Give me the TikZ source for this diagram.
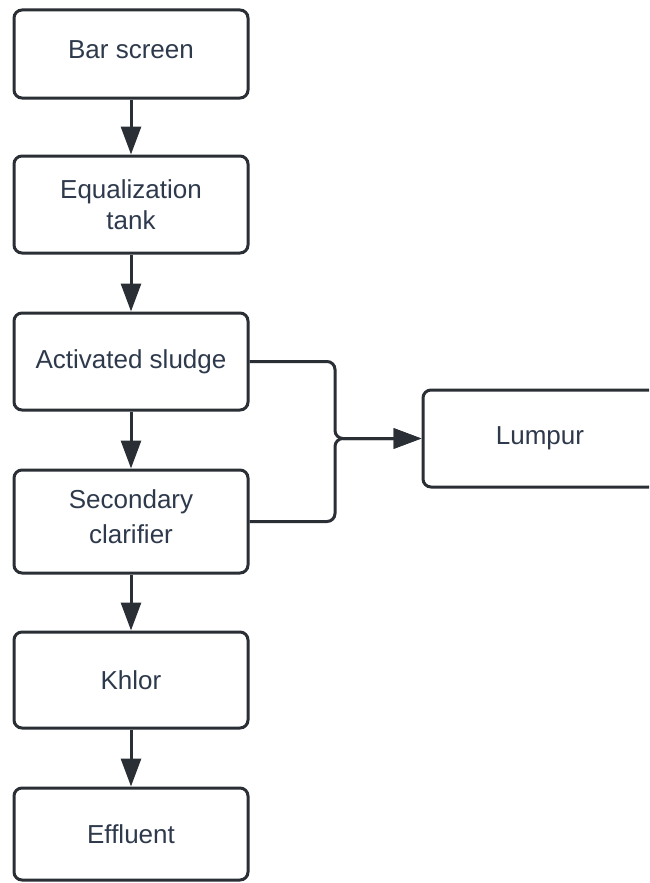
\documentclass[tikz,border=0pt]{standalone}
\usepackage{fontspec}
\setmainfont{Liberation Sans}
\usetikzlibrary{arrows.meta}
\definecolor{edge}{HTML}{2A2E35}
\definecolor{txt}{HTML}{2E3A4C}
\tikzset{
  procbox/.style={draw=edge, line width=3pt, rounded corners=8pt, fill=white,
    minimum width=234pt, text=txt, align=center, inner sep=0pt,
    font=\fontsize{26}{31}\selectfont},
  lbl/.style={text=txt, align=center, inner sep=0pt, font=\fontsize{26}{31}\selectfont},
  flow/.style={draw=edge, line width=3pt, -{Triangle[length=28pt,width=20pt]}},
  merge/.style={draw=edge, line width=3pt, rounded corners=8pt, -{Triangle[length=28pt,width=20pt]}}
}
\begin{document}
\begin{tikzpicture}[x=1pt,y=-1pt]
\clip (0,0) rectangle (649,883);
\fill[white] (0,0) rectangle (649,883);
\node[procbox, minimum height=88pt]  (bar) at (131,54)    {};
\node[lbl] (barT) at (131,50) {Bar screen};
\node[procbox, minimum height=97pt]  (eq)  at (131,204.5) {Equalization\\tank};
\node[procbox, minimum height=97pt]  (as)  at (131,361.5) {Activated sludge};
\node[procbox, minimum height=103pt] (sc) at (131,521.5) {};
\node[lbl, font=\fontsize{26}{35}\selectfont] (scT) at (131,517) {Secondary\\clarifier};
\node[procbox, minimum height=96pt]  (kh)  at (131,680)   {Khlor};
\node[procbox, minimum height=92pt]  (ef)  at (131,834)   {Effluent};
\node[procbox, minimum height=97pt]  (lu)  at (540,438.5) {Lumpur};
\coordinate (j) at (335,438.5);
\draw[flow] (bar.south) -- (eq.north);
\draw[flow] (eq.south) -- (as.north);
\draw[flow] (as.south) -- (sc.north);
\draw[flow] (sc.south) -- (kh.north);
\draw[flow] (kh.south) -- (ef.north);
\draw[merge] (as.east) -| (j) -- (lu.west);
\draw[merge] (sc.east) -| (j) -- (lu.west);
\end{tikzpicture}
\end{document}
